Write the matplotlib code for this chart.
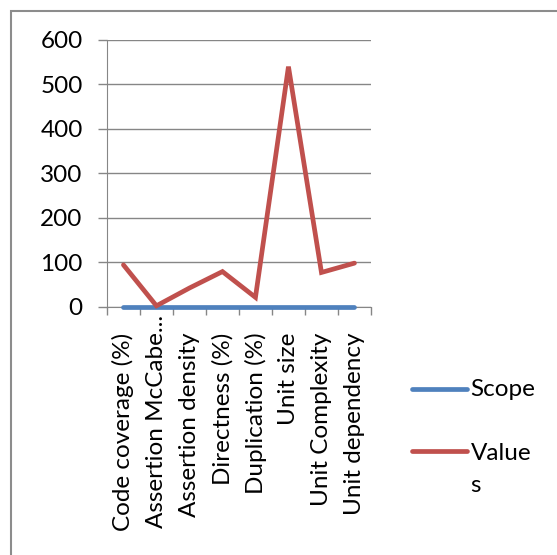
import matplotlib.pyplot as plt
from matplotlib.lines import Line2D
from matplotlib.patches import Rectangle
from matplotlib.transforms import ScaledTranslation

categories = ['Code coverage (%)', 'Assertion McCabe...', 'Assertion density',
              'Directness (%)', 'Duplication (%)', 'Unit size',
              'Unit Complexity', 'Unit dependency']
scope = [0, 0, 0, 0, 0, 0, 0, 0]
values = [94, 2, 42, 79, 21, 540, 77, 98]
yticks = [0, 100, 200, 300, 400, 500, 600]

BLUE = '#4F81BD'
RED = '#C0504D'
GRID = '#868686'
FS = 17.5
LW = 3.4

plt.rcParams['font.family'] = ['Lato', 'DejaVu Sans']

fig = plt.figure(figsize=(5.57, 5.55), dpi=100)
ax = fig.add_axes([0.192, 0.4474, 0.474, 0.4806])

x = list(range(len(categories)))
ax.plot(x, scope, color=BLUE, lw=LW, solid_capstyle='round', clip_on=False, zorder=3)
ax.plot(x, values, color=RED, lw=LW, solid_capstyle='round', solid_joinstyle='miter',
        clip_on=False, zorder=4)

ax.set_xlim(-0.5, len(categories) - 0.5)
ax.set_ylim(0, 600)
ax.set_yticks(yticks)
ax.tick_params(axis='y', length=6.5, width=1, color=GRID, labelsize=FS, pad=11)
ax.grid(axis='y', color=GRID, lw=1)
ax.set_axisbelow(True)

ax.set_xticks(x)
ax.set_xticklabels(categories, rotation=90, fontsize=FS)
ax.tick_params(axis='x', length=0, pad=18.5)
ax.set_xticks([i - 0.5 for i in range(len(categories) + 1)], minor=True)
ax.tick_params(axis='x', which='minor', length=6, width=1, color=GRID)

# the truncated label sits higher than the rest
lbl = ax.get_xticklabels()[1]
lbl.set_transform(lbl.get_transform() + ScaledTranslation(0, 0.18, fig.dpi_scale_trans))

for side in ['top', 'right']:
    ax.spines[side].set_visible(False)
for side in ['left', 'bottom']:
    ax.spines[side].set_color(GRID)

# legend drawn by hand so the wrapped label keeps its first line beside the key
for color, y in [(BLUE, 0.299), (RED, 0.187)]:
    fig.add_artist(Line2D([0.740, 0.838], [y, y], color=color, lw=LW,
                          solid_capstyle='round', transform=fig.transFigure))
fig.text(0.845, 0.2865, 'Scope', fontsize=FS, va='baseline', ha='left')
fig.text(0.845, 0.1712, 'Value', fontsize=FS, va='baseline', ha='left')
fig.text(0.845, 0.1135, 's', fontsize=FS, va='baseline', ha='left')

# outer chart border
fig.add_artist(Rectangle((11 / 557, -0.1), 1.2, 1 - 10.5 / 555 + 0.1, fill=False,
                         edgecolor='#8c8c8c', lw=1.5, transform=fig.transFigure))

fig.savefig('out.png', dpi=100)
